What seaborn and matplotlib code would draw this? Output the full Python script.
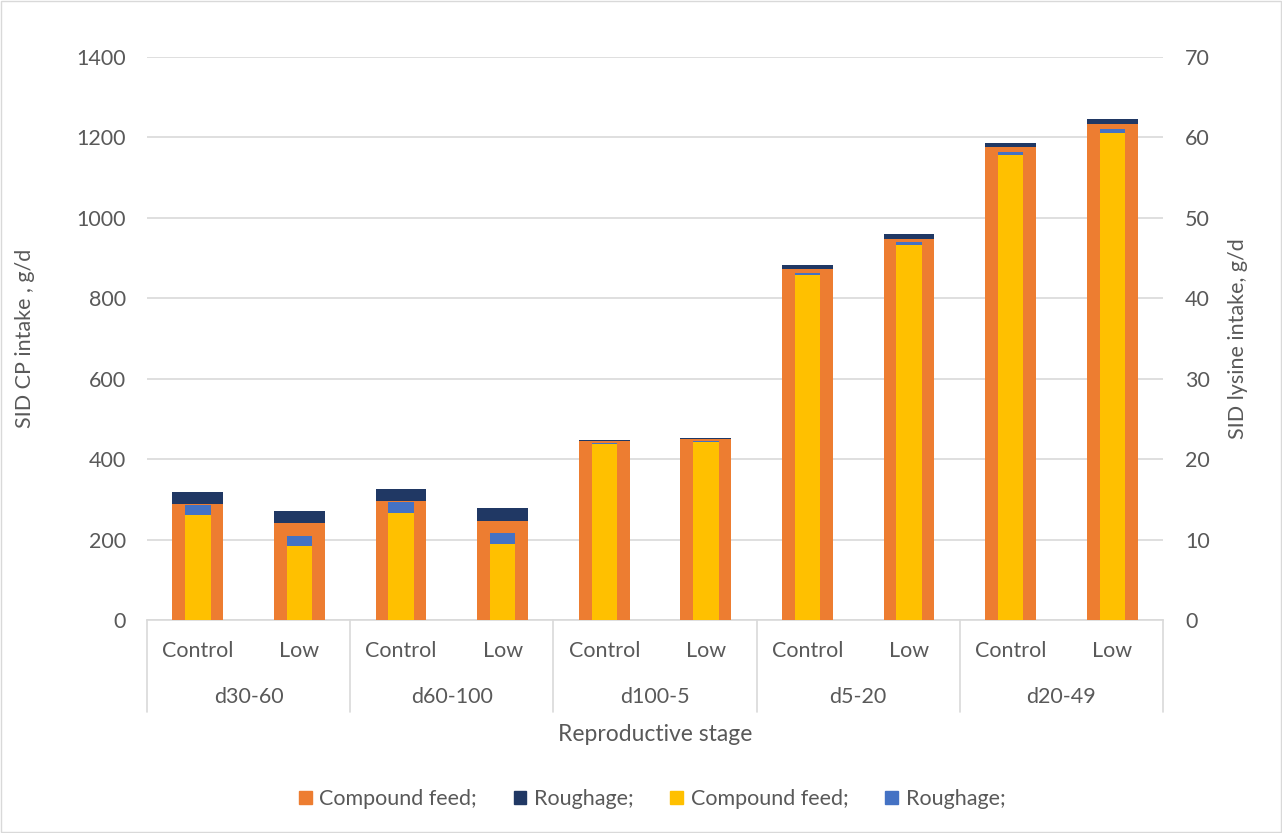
import matplotlib
matplotlib.use("Agg")
import matplotlib.pyplot as plt
import matplotlib.transforms as mtransforms
from matplotlib.patches import Rectangle
import seaborn as sns
import pandas as pd

stages = ["d30-60", "d60-100", "d100-5", "d5-20", "d20-49"]
treatments = ["Control", "Low"]
cp_compound = [288, 240, 296, 247, 444, 449, 872, 948, 1175, 1233]
cp_roughage = [30, 30, 30, 31, 4, 3, 10, 11, 11, 12]
lys_compound = [13.0, 9.2, 13.35, 9.45, 21.9, 22.1, 42.85, 46.65, 57.8, 60.6]
lys_roughage = [1.3, 1.3, 1.35, 1.35, 0.15, 0.15, 0.35, 0.35, 0.35, 0.4]

sns.set_style("white")
plt.rcParams["font.family"] = ["Lato", "DejaVu Sans"]

C_ORANGE = "#ED7D31"
C_NAVY = "#203864"
C_YELLOW = "#FFC000"
C_BLUE = "#4472C4"
TXT = "#595959"
GRID = "#d9d9d9"
FS = 15.5

keys = [f"{s}|{t}" for s in stages for t in treatments]
df = pd.DataFrame({
    "key": keys,
    "cp_c": cp_compound,
    "cp_t": [a + b for a, b in zip(cp_compound, cp_roughage)],
    "ly_c": lys_compound,
    "ly_t": [a + b for a, b in zip(lys_compound, lys_roughage)],
})

W, H = 1282, 833
fig = plt.figure(figsize=(W / 100, H / 100), dpi=100)
ax = fig.add_axes([147 / W, 1 - 620 / H, (1163 - 147) / W, (620 - 57) / H])
ax2 = ax.twinx()

sns.barplot(data=df, x="key", y="cp_t", order=keys, color=C_NAVY, width=0.5,
            linewidth=0, saturation=1, ax=ax, zorder=3)
sns.barplot(data=df, x="key", y="cp_c", order=keys, color=C_ORANGE, width=0.5,
            linewidth=0, saturation=1, ax=ax, zorder=3)
sns.barplot(data=df, x="key", y="ly_t", order=keys, color=C_BLUE, width=0.25,
            linewidth=0, saturation=1, ax=ax2, zorder=3)
sns.barplot(data=df, x="key", y="ly_c", order=keys, color=C_YELLOW, width=0.25,
            linewidth=0, saturation=1, ax=ax2, zorder=3)

ax.set_ylim(0, 1400)
ax.set_yticks(range(0, 1401, 200))
ax2.set_ylim(0, 70)
ax2.set_yticks(range(0, 71, 10))
ax.set_xlim(-0.5, len(keys) - 0.5)
ax2.set_xlim(-0.5, len(keys) - 0.5)

ax.yaxis.grid(True, color=GRID, linewidth=1.2, zorder=0)
ax.set_axisbelow(True)
for a in (ax, ax2):
    for sp in ("top", "left", "right"):
        a.spines[sp].set_visible(False)
    a.spines["bottom"].set_color(GRID)
    a.spines["bottom"].set_linewidth(1.2)
    a.tick_params(axis="both", length=0, labelsize=FS, labelcolor=TXT)
    a.set_xticks([])
    a.set_xlabel("")
ax2.spines["bottom"].set_visible(False)
ax.tick_params(axis="y", pad=15)
ax2.tick_params(axis="y", pad=16)

ax.set_ylabel("SID CP intake , g/d", fontsize=FS, color=TXT, labelpad=30)
ax2.set_ylabel("SID lysine intake, g/d", fontsize=FS, color=TXT, labelpad=13)

trans = mtransforms.blended_transform_factory(ax.transData, ax.transAxes)
for i, k in enumerate(keys):
    ax.text(i, -0.055, k.split("|")[1], transform=trans, ha="center", va="center",
            fontsize=FS, color=TXT)
for g, s in enumerate(stages):
    ax.text(2 * g + 0.5, -0.137, s, transform=trans, ha="center", va="center",
            fontsize=FS, color=TXT)
for b in range(len(stages) + 1):
    ax.plot([2 * b - 0.5, 2 * b - 0.5], [0, -0.163], transform=trans,
            color=GRID, linewidth=1.2, clip_on=False)
ax.text(0.5, -0.204, "Reproductive stage", transform=ax.transAxes, ha="center",
        va="center", fontsize=16.5, color=TXT)

handles = [Rectangle((0, 0), 1, 1, color=c) for c in (C_ORANGE, C_NAVY, C_YELLOW, C_BLUE)]
labels = ["Compound feed;", "Roughage;", "Compound feed;", "Roughage;"]
fig.legend(handles, labels, loc="center", bbox_to_anchor=(652 / W, 1 - 799 / H),
           ncol=4, frameon=False, fontsize=FS, labelcolor=TXT, handlelength=0.6,
           handleheight=0.6, handletextpad=0.35, columnspacing=1.7)

fig.patches.append(Rectangle((0.001, 0.001), 0.998, 0.998, transform=fig.transFigure,
                             fill=False, edgecolor=GRID, linewidth=1))

fig.savefig("out.png", dpi=100)
